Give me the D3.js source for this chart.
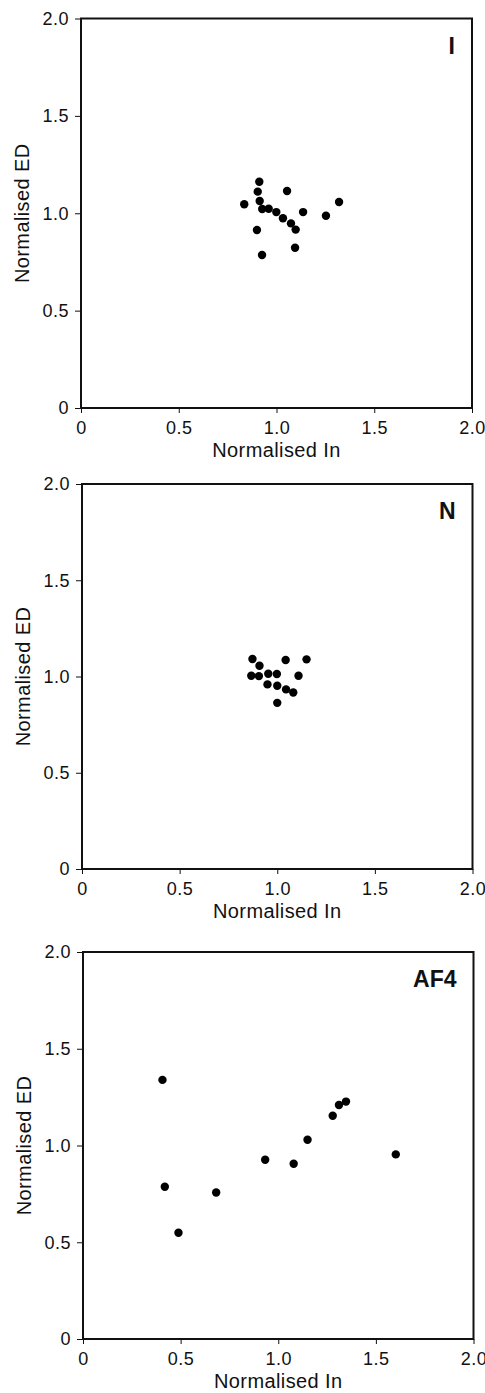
<!DOCTYPE html>
<html>
<head>
<meta charset="utf-8">
<script src="https://cdn.jsdelivr.net/npm/d3@7"></script>
<style>
  body { margin: 0; background: #fff; }
  svg { display: block; }
  text { font-family: "Liberation Sans", Arial, Helvetica, sans-serif; fill: #111; }
</style>
</head>
<body>
<svg id="chart" width="485" height="1393"></svg>
<script>
// values
const panelNames = ["I", "N", "AF4"];

const inI = [0.835, 0.912, 0.904, 0.914, 0.927, 0.960, 0.999, 1.033, 1.074, 1.098, 1.054, 1.136, 1.253, 1.320, 0.900, 1.095, 0.926];
const edI = [1.046, 1.162, 1.111, 1.063, 1.022, 1.023, 1.006, 0.974, 0.948, 0.916, 1.114, 1.006, 0.987, 1.058, 0.914, 0.823, 0.786];

const inN = [0.873, 0.909, 0.867, 0.906, 0.954, 0.998, 0.950, 1.000, 1.043, 1.150, 1.109, 1.045, 1.082, 1.000];
const edN = [1.091, 1.056, 1.004, 1.002, 1.014, 1.013, 0.959, 0.952, 1.086, 1.089, 1.004, 0.933, 0.917, 0.863];

const inAF4 = [0.407, 0.419, 0.489, 0.682, 0.933, 1.079, 1.150, 1.279, 1.311, 1.347, 1.602];
const edAF4 = [1.339, 0.787, 0.549, 0.757, 0.926, 0.906, 1.030, 1.154, 1.209, 1.227, 0.954];

const tickValues = [0, 0.5, 1.0, 1.5, 2.0];
const xTitle = "Normalised In";
const yTitle = "Normalised ED";

// layout of each panel frame (px)
const frames = [
  { left: 81, top: 18.5, right: 472, bottom: 408 },
  { left: 82, top: 484, right: 472.5, bottom: 869 },
  { left: 83, top: 952, right: 473.5, bottom: 1339 }
];

const seriesX = [inI, inN, inAF4],
  seriesY = [edI, edN, edAF4];

const svg = d3.select("#chart");
const fmt = d => (d === 0 ? "0" : d3.format(".1f")(d));

frames.forEach((f, i) => {
  const x = d3.scaleLinear().domain([0, 2]).range([f.left, f.right]);
  const y = d3.scaleLinear().domain([0, 2]).range([f.bottom, f.top]);
  const g = svg.append("g");

  // axes
  const xa = g.append("g")
    .attr("transform", "translate(0," + f.bottom + ")")
    .call(d3.axisBottom(x).tickValues(tickValues).tickFormat(fmt).tickSize(5).tickPadding(8));
  const ya = g.append("g")
    .attr("transform", "translate(" + f.left + ",0)")
    .call(d3.axisLeft(y).tickValues(tickValues).tickFormat(fmt).tickSize(6).tickPadding(6));

  [xa, ya].forEach(a => {
    a.select(".domain").remove();
    a.selectAll(".tick line").attr("stroke", "#111").attr("stroke-width", 1);
    a.selectAll(".tick text")
      .style("font-size", "18px")
      .style("letter-spacing", "0.5px")
      .attr("fill", "#111");
  });

  // frame
  g.append("rect")
    .attr("x", f.left)
    .attr("y", f.top)
    .attr("width", f.right - f.left)
    .attr("height", f.bottom - f.top)
    .attr("fill", "none")
    .attr("stroke", "#111")
    .attr("stroke-width", 2);

  // titles
  g.append("text")
    .attr("x", (f.left + f.right) / 2)
    .attr("y", f.bottom + 49)
    .attr("text-anchor", "middle")
    .style("font-size", "20px")
    .style("letter-spacing", "0.4px")
    .text(xTitle);

  g.append("text")
    .attr("transform", "translate(" + (f.left - 52) + "," + (f.top + f.bottom) / 2 + ") rotate(-90)")
    .attr("text-anchor", "middle")
    .style("font-size", "20px")
    .style("letter-spacing", "0.4px")
    .text(yTitle);

  g.append("text")
    .attr("x", f.right - 17)
    .attr("y", f.top + 35)
    .attr("text-anchor", "end")
    .style("font-size", "23px")
    .style("font-weight", "bold")
    .text(panelNames[i]);

  // points
  const pts = d3.zip(seriesX[i], seriesY[i]);
  g.selectAll("circle")
    .data(pts)
    .join("circle")
    .attr("cx", d => x(d[0]))
    .attr("cy", d => y(d[1]))
    .attr("r", 4.2)
    .attr("fill", "#000");
});
</script>
</body>
</html>
